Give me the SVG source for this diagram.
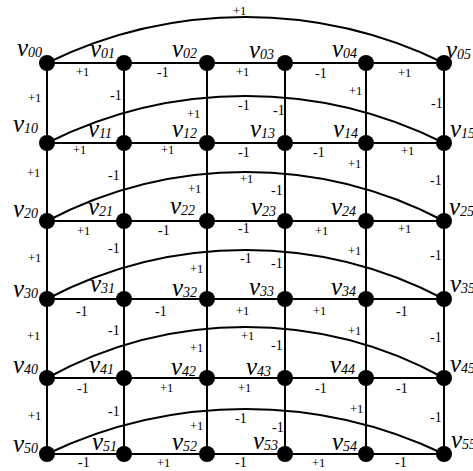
<svg xmlns="http://www.w3.org/2000/svg" width="473" height="471" viewBox="0 0 473 471">
<style>
.e{stroke:#000;stroke-width:2;fill:none}
.n{fill:#000}
.nl{font-family:"Liberation Serif","Times New Roman",serif;font-style:italic;font-size:25px;fill:#000}
.sub{font-size:14px}
.w{font-family:"Liberation Serif","Times New Roman",serif;font-size:12.5px;fill:#000}
.m{font-size:14px}
</style>
<rect width="473" height="471" fill="#fff"/>
<g id="connectors">
<path class="e" d="M47 63H444M47 143H444M47 221H444M47 299H444M47 378H444M47 454H444"/>
<path class="e" d="M47 63V454M124 63V454M207 63V454M285 63V454M366 63V454M444 63V454"/>
<path class="e" d="M47 63A451.3 451.3 0 0 1 444 63"/>
<path class="e" d="M47 143A442.7 442.7 0 0 1 444 143"/>
<path class="e" d="M47 221A426.6 426.6 0 0 1 444 221"/>
<path class="e" d="M47 299A426.6 426.6 0 0 1 444 299"/>
<path class="e" d="M47 378A411.8 411.8 0 0 1 444 378"/>
<path class="e" d="M47 454A460.3 460.3 0 0 1 444 454"/>
</g>
<g id="edge-labels" class="w">
<text x="233" y="15">+1</text>
<text x="76" y="76">+1</text><text class="m" x="157" y="77">-1</text><text x="236" y="76">+1</text><text class="m" x="315" y="78">-1</text><text x="398" y="77">+1</text>
<text x="28" y="102">+1</text><text class="m" x="110" y="100">-1</text><text x="187" y="118">+1</text><text class="m" x="238" y="110">-1</text><text class="m" x="273" y="115">-1</text><text x="349" y="95">+1</text><text class="m" x="431" y="108">-1</text>
<text x="73" y="154">+1</text><text x="161" y="154">+1</text><text class="m" x="238" y="157">-1</text><text class="m" x="313" y="157">-1</text><text x="401" y="155">+1</text>
<text x="27" y="177">+1</text><text class="m" x="108" y="180">-1</text><text x="188" y="193">+1</text><text x="240" y="183">+1</text><text class="m" x="271" y="195">-1</text><text x="348" y="168">+1</text><text class="m" x="430" y="185">-1</text>
<text x="77" y="235">+1</text><text class="m" x="158" y="235">-1</text><text class="m" x="238" y="233">-1</text><text x="315" y="235">+1</text><text x="398" y="233">+1</text>
<text x="28" y="262">+1</text><text class="m" x="108" y="253">-1</text><text x="190" y="273">+1</text><text class="m" x="240" y="263">-1</text><text class="m" x="271" y="268">-1</text><text x="348" y="255">+1</text><text class="m" x="430" y="260">-1</text>
<text class="m" x="76" y="316">-1</text><text class="m" x="155" y="316">-1</text><text x="236" y="315">+1</text><text x="313" y="315">+1</text><text class="m" x="396" y="316">-1</text>
<text x="27" y="340">+1</text><text class="m" x="108" y="335">-1</text><text x="190" y="352">+1</text><text x="241" y="340">+1</text><text class="m" x="271" y="350">-1</text><text x="348" y="335">+1</text><text class="m" x="430" y="342">-1</text>
<text class="m" x="77" y="393">-1</text><text x="160" y="392">+1</text><text x="238" y="392">+1</text><text class="m" x="315" y="393">-1</text><text class="m" x="396" y="393">-1</text>
<text x="28" y="420">+1</text><text class="m" x="108" y="416">-1</text><text x="190" y="430">+1</text><text class="m" x="235" y="423">-1</text><text class="m" x="272" y="432">-1</text><text x="350" y="413">+1</text><text class="m" x="430" y="422">-1</text>
<text class="m" x="78" y="467">-1</text><text x="157" y="467">+1</text><text class="m" x="235" y="467">-1</text><text x="312" y="467">+1</text><text class="m" x="395" y="467">-1</text>
</g>
<g id="v00"><circle class="n" cx="47" cy="63" r="8"/><text class="nl" x="17" y="56">v<tspan class="sub" dy="1">00</tspan></text></g>
<g id="v01"><circle class="n" cx="124" cy="63" r="8"/><text class="nl" x="90" y="57">v<tspan class="sub" dy="1">01</tspan></text></g>
<g id="v02"><circle class="n" cx="207" cy="63" r="8"/><text class="nl" x="172" y="57">v<tspan class="sub" dy="1">02</tspan></text></g>
<g id="v03"><circle class="n" cx="285" cy="63" r="8"/><text class="nl" x="249" y="58">v<tspan class="sub" dy="1">03</tspan></text></g>
<g id="v04"><circle class="n" cx="366" cy="63" r="8"/><text class="nl" x="332" y="57">v<tspan class="sub" dy="1">04</tspan></text></g>
<g id="v05"><circle class="n" cx="444" cy="63" r="8"/><text class="nl" x="446" y="58">v<tspan class="sub" dy="1">05</tspan></text></g>
<g id="v10"><circle class="n" cx="47" cy="143" r="8"/><text class="nl" x="13" y="132">v<tspan class="sub" dy="1">10</tspan></text></g>
<g id="v11"><circle class="n" cx="124" cy="143" r="8"/><text class="nl" x="88" y="137">v<tspan class="sub" dy="1">11</tspan></text></g>
<g id="v12"><circle class="n" cx="207" cy="143" r="8"/><text class="nl" x="172" y="137">v<tspan class="sub" dy="1">12</tspan></text></g>
<g id="v13"><circle class="n" cx="285" cy="143" r="8"/><text class="nl" x="250" y="137">v<tspan class="sub" dy="1">13</tspan></text></g>
<g id="v14"><circle class="n" cx="366" cy="143" r="8"/><text class="nl" x="333" y="137">v<tspan class="sub" dy="1">14</tspan></text></g>
<g id="v15"><circle class="n" cx="444" cy="143" r="8"/><text class="nl" x="450" y="137">v<tspan class="sub" dy="1">15</tspan></text></g>
<g id="v20"><circle class="n" cx="47" cy="221" r="8"/><text class="nl" x="13" y="217">v<tspan class="sub" dy="1">20</tspan></text></g>
<g id="v21"><circle class="n" cx="124" cy="221" r="8"/><text class="nl" x="88" y="215">v<tspan class="sub" dy="1">21</tspan></text></g>
<g id="v22"><circle class="n" cx="207" cy="221" r="8"/><text class="nl" x="170" y="214">v<tspan class="sub" dy="1">22</tspan></text></g>
<g id="v23"><circle class="n" cx="285" cy="221" r="8"/><text class="nl" x="251" y="215">v<tspan class="sub" dy="1">23</tspan></text></g>
<g id="v24"><circle class="n" cx="366" cy="221" r="8"/><text class="nl" x="331" y="215">v<tspan class="sub" dy="1">24</tspan></text></g>
<g id="v25"><circle class="n" cx="444" cy="221" r="8"/><text class="nl" x="449" y="215">v<tspan class="sub" dy="1">25</tspan></text></g>
<g id="v30"><circle class="n" cx="47" cy="299" r="8"/><text class="nl" x="13" y="297">v<tspan class="sub" dy="1">30</tspan></text></g>
<g id="v31"><circle class="n" cx="124" cy="299" r="8"/><text class="nl" x="90" y="292">v<tspan class="sub" dy="1">31</tspan></text></g>
<g id="v32"><circle class="n" cx="207" cy="299" r="8"/><text class="nl" x="172" y="296">v<tspan class="sub" dy="1">32</tspan></text></g>
<g id="v33"><circle class="n" cx="285" cy="299" r="8"/><text class="nl" x="249" y="295">v<tspan class="sub" dy="1">33</tspan></text></g>
<g id="v34"><circle class="n" cx="366" cy="299" r="8"/><text class="nl" x="331" y="295">v<tspan class="sub" dy="1">34</tspan></text></g>
<g id="v35"><circle class="n" cx="444" cy="299" r="8"/><text class="nl" x="450" y="292">v<tspan class="sub" dy="1">35</tspan></text></g>
<g id="v40"><circle class="n" cx="47" cy="378" r="8"/><text class="nl" x="13" y="373">v<tspan class="sub" dy="1">40</tspan></text></g>
<g id="v41"><circle class="n" cx="124" cy="378" r="8"/><text class="nl" x="89" y="373">v<tspan class="sub" dy="1">41</tspan></text></g>
<g id="v42"><circle class="n" cx="207" cy="378" r="8"/><text class="nl" x="171" y="375">v<tspan class="sub" dy="1">42</tspan></text></g>
<g id="v43"><circle class="n" cx="285" cy="378" r="8"/><text class="nl" x="246" y="375">v<tspan class="sub" dy="1">43</tspan></text></g>
<g id="v44"><circle class="n" cx="366" cy="378" r="8"/><text class="nl" x="330" y="373">v<tspan class="sub" dy="1">44</tspan></text></g>
<g id="v45"><circle class="n" cx="444" cy="378" r="8"/><text class="nl" x="450" y="372">v<tspan class="sub" dy="1">45</tspan></text></g>
<g id="v50"><circle class="n" cx="47" cy="454" r="8"/><text class="nl" x="13" y="452">v<tspan class="sub" dy="1">50</tspan></text></g>
<g id="v51"><circle class="n" cx="124" cy="454" r="8"/><text class="nl" x="92" y="450">v<tspan class="sub" dy="1">51</tspan></text></g>
<g id="v52"><circle class="n" cx="207" cy="454" r="8"/><text class="nl" x="172" y="450">v<tspan class="sub" dy="1">52</tspan></text></g>
<g id="v53"><circle class="n" cx="285" cy="454" r="8"/><text class="nl" x="253" y="449">v<tspan class="sub" dy="1">53</tspan></text></g>
<g id="v54"><circle class="n" cx="366" cy="454" r="8"/><text class="nl" x="332" y="450">v<tspan class="sub" dy="1">54</tspan></text></g>
<g id="v55"><circle class="n" cx="444" cy="454" r="8"/><text class="nl" x="451" y="448">v<tspan class="sub" dy="1">55</tspan></text></g>
</svg>
